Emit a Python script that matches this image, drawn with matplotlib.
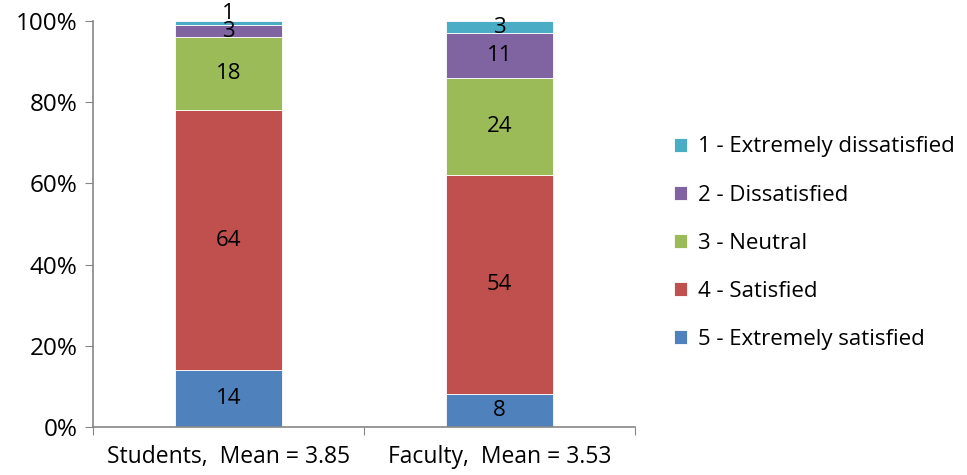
import numpy as np
import matplotlib.pyplot as plt
from matplotlib.ticker import PercentFormatter

plt.rcParams['font.family'] = ['Open Sans', 'DejaVu Sans']

groups = ['Students,  Mean = 3.85', 'Faculty,  Mean = 3.53']
levels = ['5 - Extremely satisfied', '4 - Satisfied', '3 - Neutral',
          '2 - Dissatisfied', '1 - Extremely dissatisfied']
students = [14, 64, 18, 3, 1]
faculty = [8, 54, 24, 11, 3]
colors = ['#4F81BD', '#C0504D', '#9BBB59', '#8064A2', '#4BACC6']

data = np.array([students, faculty]).T  # rows = levels
x = np.arange(len(groups))
fs = 16.5

fig = plt.figure(figsize=(9.67, 4.75), dpi=100)
ax = fig.add_axes([0.0962, 0.1011, 0.5605, 0.8547])

bottom = np.zeros(len(groups))
handles = []
for i, lvl in enumerate(levels):
    vals = data[i]
    b = ax.bar(x, vals, width=0.395, bottom=bottom, color=colors[i],
               edgecolor='white', linewidth=0.6, label=lvl)
    handles.append(b)
    for xi, v, b0 in zip(x, vals, bottom):
        # tiny segments: nudge label up a little so it doesn't sit on the one below
        dy = 7 if v < 2 else 0
        ax.annotate(str(v), (xi, b0 + v / 2), xytext=(0, dy),
                    textcoords='offset points', ha='center', va='center',
                    fontsize=fs - 0.5, color='black')
    bottom += vals

ax.set_xlim(-0.5, 1.5)
ax.set_ylim(0, 100)
ax.set_yticks(np.arange(0, 101, 20))
ax.yaxis.set_major_formatter(PercentFormatter(decimals=0))
ax.set_xticks([-0.5, 0.5, 1.5])
ax.set_xticklabels([])
ax.set_xticks(x, minor=True)
ax.set_xticklabels(groups, minor=True)
ax.tick_params(axis='x', which='minor', length=0, pad=13, labelsize=fs)
ax.tick_params(axis='x', which='major', length=6, color='#868686')
ax.tick_params(axis='y', length=6, color='#868686', labelsize=fs + 1, pad=5)

for s in ['top', 'right']:
    ax.spines[s].set_visible(False)
for s in ['left', 'bottom']:
    ax.spines[s].set_color('#868686')
    ax.spines[s].set_linewidth(1.2)

fig.legend(handles[::-1], levels[::-1], loc='center left',
           bbox_to_anchor=(0.697, 0.488), frameon=False, fontsize=fs - 0.5,
           handlelength=0.6, handleheight=0.6, labelspacing=1.22,
           handletextpad=0.5, borderpad=0, borderaxespad=0)

fig.savefig('out.png', dpi=100)
